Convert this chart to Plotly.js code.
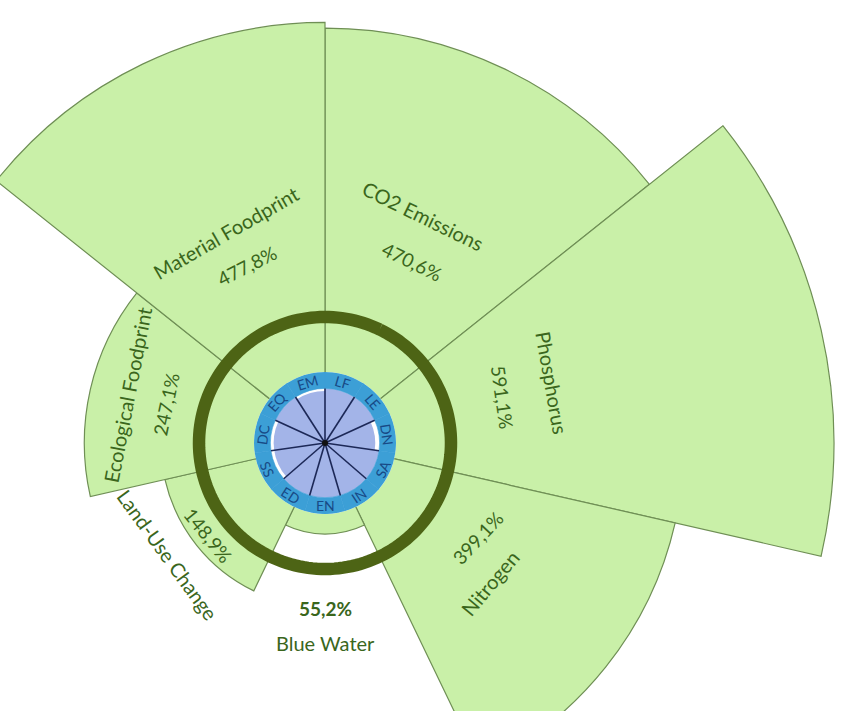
<!DOCTYPE html>
<html><head><meta charset="utf-8">
<script src="https://cdn.plot.ly/plotly-3.0.1.min.js"></script>
<style>
html,body{margin:0;padding:0;overflow:hidden;background:#fff;width:843px;height:711px;}
#wrap{position:relative;width:843px;height:711px;overflow:hidden;}
#chart{position:absolute;left:-222px;top:-104px;width:1094px;height:1094px;}
</style></head><body>
<div id="wrap"><div id="chart"></div></div>
<script>
// ---- Data ----
// Ecological ceiling, clockwise starting from the top (right of 12 o'clock)
const ceilingNames = ['CO2 Emissions','Phosphorus','Nitrogen','Blue Water','Land-Use Change','Ecological Foodprint','Material Foodprint'];
const ceilingValues = [470.6, 591.1, 399.1, 55.2, 148.9, 247.1, 477.8];
const boundaryValue = 100;
// Social foundation, clockwise starting from EM
const socialCodes = ['EM','LF','LE','DN','SA','IN','EN','ED','SS','DC','EQ'];
const socialValues = [95, 100, 100, 92, 100, 100, 100, 100, 94, 94, 100];

// ---- Geometry / styles ----
const W = 1094;                 // plot size in px (larger than the window, offset by CSS)
const radialMax = 640;
const holeFrac = 0.0878;
const innerRadiusPx = 71;
const innerMax = 130;
const green = '#c9f0a8', greenLine = '#6f8f55', ringColor = '#4d6415';
const textGreen = '#3a661c';
const lavender = '#a3b4e8', blueRing = '#3c9fd6', spokeColor = '#1c2857', codeColor = '#184a86';
const font = 'Lato, "Open Sans", sans-serif';

const stepC = 360 / ceilingNames.length;
const stepS = 360 / socialCodes.length;
const rotC = 90 - stepC / 2;
const rotS = 90 + stepS / 2;

const traces = [];
traces.push({
  type: 'barpolar', subplot: 'polar',
  r: ceilingValues, theta: ceilingNames.map((_, i) => i * stepC), width: ceilingNames.map(() => stepC),
  marker: {color: green, line: {color: greenLine, width: 1.2}},
  hoverinfo: 'skip', showlegend: false
});
// boundary ring
const ringTheta = [], ringR = [];
for (let a = 0; a <= 360; a += 2) { ringTheta.push(a); ringR.push(boundaryValue); }
traces.push({
  type: 'scatterpolar', subplot: 'polar', mode: 'lines',
  r: ringR, theta: ringTheta, line: {color: ringColor, width: 12.5},
  hoverinfo: 'skip', showlegend: false
});
// social foundation
traces.push({
  type: 'barpolar', subplot: 'polar2',
  r: socialValues, theta: socialCodes.map((_, i) => i * stepS), width: socialCodes.map(() => stepS),
  marker: {color: lavender, line: {width: 0}},
  hoverinfo: 'skip', showlegend: false
});
traces.push({
  type: 'barpolar', subplot: 'polar2',
  base: socialCodes.map(() => 100), r: socialCodes.map(() => innerMax - 100),
  theta: socialCodes.map((_, i) => i * stepS), width: socialCodes.map(() => stepS),
  marker: {color: blueRing, line: {color: blueRing, width: 0.6}},
  hoverinfo: 'skip', showlegend: false
});
const spR = [], spT = [];
socialCodes.forEach((_, i) => { const b = i * stepS - stepS / 2; spR.push(0, 100, null); spT.push(b, b, null); });
traces.push({
  type: 'scatterpolar', subplot: 'polar2', mode: 'lines',
  r: spR, theta: spT, line: {color: spokeColor, width: 1.6},
  hoverinfo: 'skip', showlegend: false
});
traces.push({
  type: 'scatterpolar', subplot: 'polar2', mode: 'markers',
  r: [0], theta: [0], marker: {color: '#111', size: 6},
  hoverinfo: 'skip', showlegend: false
});

// ---- Annotations ----
function pos(rho, ang) {
  const a = ang * Math.PI / 180;
  return {x: 0.5 + rho * Math.cos(a) / W, y: 0.5 + rho * Math.sin(a) / W};
}
function fmt(v) { return v.toFixed(1).replace('.', ',') + '%'; }
// [nameRho, nameAng, nameRot, pctRho, pctAng, pctRot]
const labelPlacement = [
  [247, 66.5, 26, 201, 64.3, 26],
  [235, 14.8, 80, 183, 14.3, 82],
  [216, -40.3, -50, 180, -31.8, -47],
  [200, -90, 0, 165, -90, 0],
  [193, -144.5, 54, 149, -141.5, 51],
  [203, 166.4, -79, 164, 166.3, -78],
  [233, 115.4, -30, 194, 113.7, -27]
];
const annotations = [];
ceilingNames.forEach((n, i) => {
  const p = labelPlacement[i];
  const pn = pos(p[0], p[1]), pp = pos(p[3], p[4]);
  annotations.push({xref: 'paper', yref: 'paper', x: pn.x, y: pn.y, xanchor: 'center', yanchor: 'middle',
    text: n, showarrow: false, textangle: p[2], font: {family: font, size: 20, color: textGreen}});
  const isShort = ceilingValues[i] < boundaryValue;
  annotations.push({xref: 'paper', yref: 'paper', x: pp.x, y: pp.y, xanchor: 'center', yanchor: 'middle',
    text: isShort ? '<b>' + fmt(ceilingValues[i]) + '</b>' : fmt(ceilingValues[i]), showarrow: false, textangle: p[5],
    font: {family: font, size: 19, color: textGreen}});
});
socialCodes.forEach((c, i) => {
  const ang = rotS - i * stepS;
  const a = ((ang % 360) + 540) % 360 - 180;
  const rot = Math.sin(a * Math.PI / 180) >= -0.01 ? 90 - a : -90 - a;
  const p = pos(63, a);
  annotations.push({xref: 'paper', yref: 'paper', x: p.x, y: p.y, xanchor: 'center', yanchor: 'middle',
    text: c, showarrow: false, textangle: rot, font: {family: font, size: 14, color: codeColor}});
});

const hidden = {visible: false, showgrid: false, showline: false, showticklabels: false, ticks: ''};
const s = innerRadiusPx / W;
const layout = {
  width: W, height: W, margin: {l: 0, r: 0, t: 0, b: 0},
  paper_bgcolor: '#fff', showlegend: false,
  barmode: 'overlay',
  polar: {
    domain: {x: [0, 1], y: [0, 1]}, hole: holeFrac, bgcolor: 'rgba(0,0,0,0)',
    radialaxis: Object.assign({range: [0, radialMax]}, hidden),
    angularaxis: Object.assign({direction: 'clockwise', rotation: rotC}, hidden),
    barmode: 'overlay'
  },
  polar2: {
    domain: {x: [0.5 - s, 0.5 + s], y: [0.5 - s, 0.5 + s]}, bgcolor: '#ffffff',
    radialaxis: Object.assign({range: [0, innerMax]}, hidden),
    angularaxis: Object.assign({direction: 'clockwise', rotation: rotS}, hidden),
    barmode: 'overlay'
  },
  annotations: annotations
};
Plotly.newPlot('chart', traces, layout, {staticPlot: true, displayModeBar: false});
</script>
</body></html>
